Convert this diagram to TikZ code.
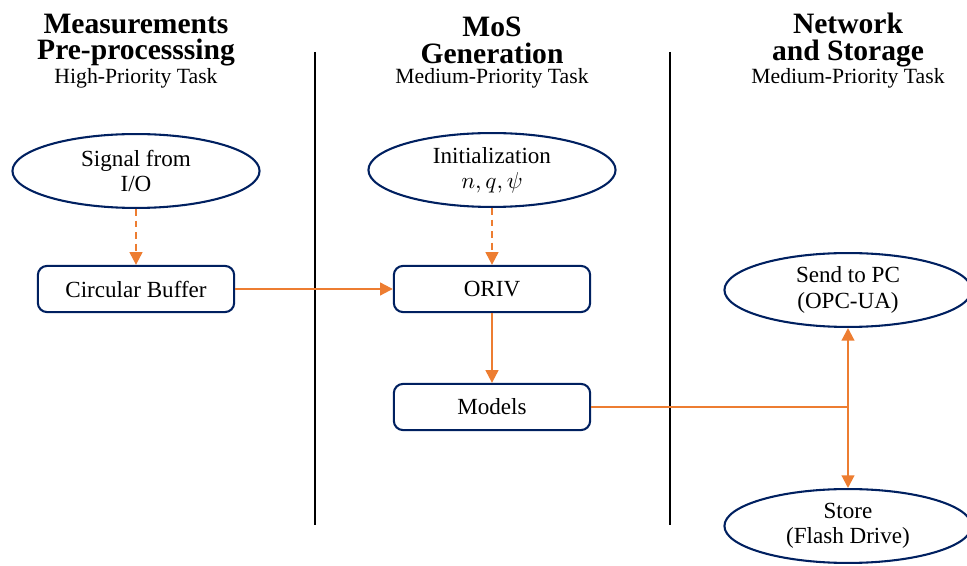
\documentclass[tikz,border=0pt]{standalone}
\usepackage{fontspec}
\setmainfont{Liberation Serif}
\usetikzlibrary{shapes.geometric,arrows.meta,positioning}
\definecolor{navyblue}{RGB}{0,32,96}
\definecolor{flowor}{RGB}{237,125,49}

\tikzset{
  blockbox/.style={draw=navyblue,line width=0.9pt,rounded corners=4pt,
    minimum width=85pt,minimum height=20pt,inner sep=0pt,font=\fontsize{10}{12}\selectfont},
  oval/.style={ellipse,draw=navyblue,line width=0.9pt,minimum width=107pt,
    minimum height=32pt,inner sep=0pt,align=center,font=\fontsize{10}{11}\selectfont},
  colhead/.style={align=center,inner sep=0pt,font=\fontsize{12.8}{11.6}\bfseries\selectfont},
  colsub/.style={inner sep=0pt,font=\fontsize{9.4}{11}\selectfont},
  flow/.style={draw=flowor,line width=0.9pt,-{Triangle[length=5.5pt,width=5.5pt]}},
  divider/.style={draw=black,line width=0.6pt}
}

\begin{document}
\begin{tikzpicture}[x=0.433pt,y=-0.433pt]
\useasboundingbox (0,0) rectangle (967,566);

% column titles
\node[colhead] (head1) at (136,40) {Measurements\\Pre-processsing};
\node[colsub] (sub1) at (136,78) {High-Priority Task};
\node[colhead] (head2) at (492,40) {MoS\\Generation};
\node[colsub] (sub2) at (492,78) {Medium-Priority Task};
\node[colhead] (head3) at (848,40) {Network\\and Storage};
\node[colsub] (sub3) at (848,78) {Medium-Priority Task};

% dividers
\coordinate (d1top) at (315,52);
\coordinate (d1bot) at (315,525);
\coordinate (d2top) at (670,52);
\coordinate (d2bot) at (670,525);
\draw[divider] (d1top) -- (d1bot);
\draw[divider] (d2top) -- (d2bot);

% blocks
\node[oval] (sig) at (136,171) {Signal from\\I/O};
\node[blockbox] (buf) at (136,289) {Circular Buffer};
\node[oval] (init) at (492,170) {Initialization\\$n,q,\psi$};
\node[blockbox] (oriv) at (492,289) {ORIV};
\node[blockbox] (models) at (492,407) {Models};
\node[oval] (send) at (848,290) {Send to PC\\(OPC-UA)};
\node[oval] (store) at (848,526) {Store\\(Flash Drive)};

% connections
\draw[flow,dash pattern=on 3pt off 2pt] (sig) -- (buf);
\draw[flow,dash pattern=on 3pt off 2pt] (init) -- (oriv);
\draw[flow] (buf) -- (oriv);
\draw[flow] (oriv) -- (models);
\coordinate (split) at (848,407);
\draw[draw=flowor,line width=0.9pt] (models) -- (split);
\draw[flow] (split) -- (send);
\draw[flow] (split) -- (store);
\end{tikzpicture}
\end{document}
